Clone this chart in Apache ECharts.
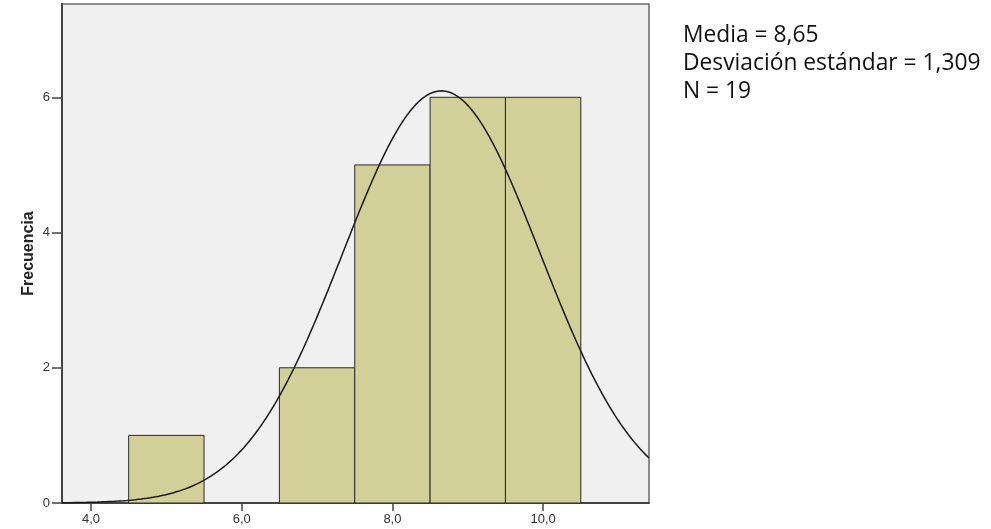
<!DOCTYPE html>
<html>
<head>
<meta charset="utf-8">
<script src="https://cdn.jsdelivr.net/npm/echarts@6/dist/echarts.min.js"></script>
<style>
  html, body { margin: 0; padding: 0; background: #ffffff; }
  #chart { width: 991px; height: 529px; }
</style>
</head>
<body>
<div id="chart"></div>
<script>
// Histogram bins (lower / upper edges) and their frequencies
const binLower = [4.5, 6.5, 7.5, 8.5, 9.5];
const binUpper = [5.5, 7.5, 8.5, 9.5, 10.5];
const counts = [1, 2, 5, 6, 6];

// Summary statistics shown beside the plot
const mean = 8.65;
const stdDev = 1.309;
const n = 19;

// Axis ticks
const xTicks = [4, 6, 8, 10];
const yTicks = [0, 2, 4, 6];

const xMin = 3.615, xMax = 11.405;
const yMax = 7.38;

// Fitted normal curve scaled to the histogram (total frequency x bin width)
const binWidth = binUpper[0] - binLower[0];
const total = counts.reduce((a, b) => a + b, 0);
const curve = [];
for (let i = 0; i <= 400; i++) {
  const x = xMin + (xMax - xMin) * i / 400;
  const z = (x - mean) / stdDev;
  curve.push([x, total * binWidth * Math.exp(-0.5 * z * z) / (stdDev * Math.sqrt(2 * Math.PI))]);
}

const bars = binLower.map((lo, i) => [lo, binUpper[i], counts[i]]);
const fmt = v => v.toFixed(1).replace('.', ',');

const chart = echarts.init(document.getElementById('chart'));
chart.setOption({
  animation: false,
  backgroundColor: '#ffffff',
  grid: {
    left: 62, right: 342, top: 4, bottom: 26,
    show: true, backgroundColor: '#f0f0f0',
    borderColor: '#6a6a6a', borderWidth: 1.5
  },
  xAxis: {
    type: 'value', min: xMin, max: xMax,
    splitLine: { show: false },
    axisLine: { show: true, lineStyle: { color: '#444', width: 2 } },
    axisTick: { show: true, length: 8, customValues: xTicks, lineStyle: { color: '#444', width: 1.5 } },
    axisLabel: {
      customValues: xTicks, formatter: v => fmt(v),
      color: '#333', fontFamily: 'Liberation Sans, Arial', fontSize: 13, margin: 10
    }
  },
  yAxis: {
    type: 'value', min: 0, max: yMax,
    name: 'Frecuencia', nameLocation: 'middle', nameGap: 25, nameMoveOverlap: false,
    nameTextStyle: { color: '#222', fontFamily: 'Liberation Sans, Arial', fontWeight: 'bold', fontSize: 16 },
    splitLine: { show: false },
    axisLine: { show: true, lineStyle: { color: '#444', width: 2 } },
    axisTick: { show: true, length: 10, customValues: yTicks, lineStyle: { color: '#444', width: 1.5 } },
    axisLabel: {
      customValues: yTicks, color: '#333',
      fontFamily: 'Liberation Sans, Arial', fontSize: 13, margin: 12
    }
  },
  series: [
    {
      type: 'custom',
      data: bars,
      renderItem: function (params, api) {
        const p0 = api.coord([api.value(0), api.value(2)]);
        const p1 = api.coord([api.value(1), 0]);
        return {
          type: 'rect',
          shape: { x: p0[0], y: p0[1], width: p1[0] - p0[0], height: p1[1] - p0[1] },
          style: { fill: '#d3cf98', stroke: '#2a2a2a', lineWidth: 1 }
        };
      },
      z: 2
    },
    {
      type: 'line',
      data: curve,
      showSymbol: false,
      smooth: false,
      clip: true,
      lineStyle: { color: '#1a1a1a', width: 1.5 },
      z: 3
    }
  ],
  graphic: [
    {
      type: 'text', left: 683, top: 22,
      style: {
        text: 'Media = ' + mean.toFixed(2).replace('.', ',') + '\nDesviación estándar = ' +
              stdDev.toFixed(3).replace('.', ',') + '\nN = ' + n,
        font: '22.8px "Open Sans", Lato, sans-serif',
        lineHeight: 28, fill: '#111'
      }
    }
  ]
});
</script>
</body>
</html>
